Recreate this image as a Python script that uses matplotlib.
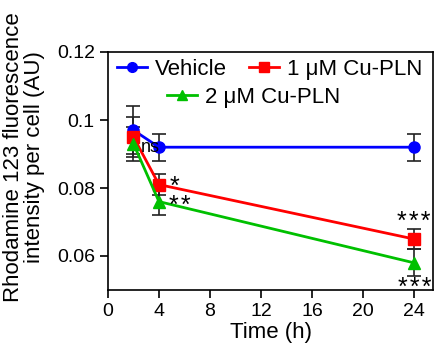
import matplotlib
matplotlib.use('Agg')
import matplotlib.pyplot as plt
from matplotlib.lines import Line2D

plt.rcParams['font.family'] = ['Liberation Sans', 'DejaVu Sans']

time_h = [2, 4, 24]
vehicle = [0.097, 0.092, 0.092]
vehicle_err = [0.007, 0.004, 0.004]
cu1 = [0.095, 0.081, 0.065]
cu1_err = [0.006, 0.003, 0.003]
cu2 = [0.093, 0.076, 0.058]
cu2_err = [0.005, 0.004, 0.004]

series = [
    ('Vehicle', vehicle, vehicle_err, '#0000ff', 'o'),
    ('1 \u03bcM Cu-PLN', cu1, cu1_err, '#ff0000', 's'),
    ('2 \u03bcM Cu-PLN', cu2, cu2_err, '#00c000', '^'),
]

fig = plt.figure(figsize=(4.34, 3.43), dpi=100)
ax = fig.add_axes([108 / 434, 1 - 290 / 343, 325 / 434, 238 / 343])

handles = []
for label, y, err, c, m in series:
    ax.errorbar(time_h, y, yerr=err, color=c, marker=m, markersize=8, lw=2,
                ecolor='#222222', elinewidth=1.2, capsize=5, capthick=1.2)
    handles.append(Line2D([], [], color=c, marker=m, markersize=7, lw=2))

# significance labels
hs = '\u200a'
ax.text(2.6, 0.0918, 'ns', fontsize=13, va='center', ha='left')
ax.text(5.18, 0.0802, '*', fontsize=18, va='center', ha='center')
ax.text(5.62, 0.0748, hs.join('**'), fontsize=18, va='center', ha='center')
ax.text(24.0, 0.0700, hs.join('***'), fontsize=18, va='center', ha='center')
ax.text(24.05, 0.0505, hs.join('***'), fontsize=18, va='center', ha='center')

ax.set_xlim(0, 25.5)
ax.set_ylim(0.05, 0.12)
ax.set_xticks([0, 4, 8, 12, 16, 20, 24])
ax.set_yticks([0.06, 0.08, 0.1, 0.12])
ax.set_yticklabels(['0.06', '0.08', '0.1', '0.12'])
ax.tick_params(direction='out', length=6, width=1.2, labelsize=14)
for s in ax.spines.values():
    s.set_linewidth(1.2)

ax.set_xlabel('Time (h)', fontsize=16, labelpad=1)
ax.set_ylabel('Rhodamine 123 fluorescence\nintensity per cell (AU)', fontsize=16,
              linespacing=0.95)
ax.yaxis.set_label_coords(-0.195, 0.56)

leg1 = ax.legend(handles[:2], [s[0] for s in series[:2]], ncol=2, frameon=False,
                 fontsize=16, loc='upper left', bbox_to_anchor=(0.0, 1.01),
                 handlelength=1.35, columnspacing=1.0, handletextpad=0.35,
                 borderaxespad=0)
ax.add_artist(leg1)
ax.legend(handles[2:], [series[2][0]], frameon=False, fontsize=16,
          loc='upper left', bbox_to_anchor=(0.155, 0.89), handlelength=1.35,
          handletextpad=0.35, borderaxespad=0)

fig.savefig('out.png', dpi=100)
